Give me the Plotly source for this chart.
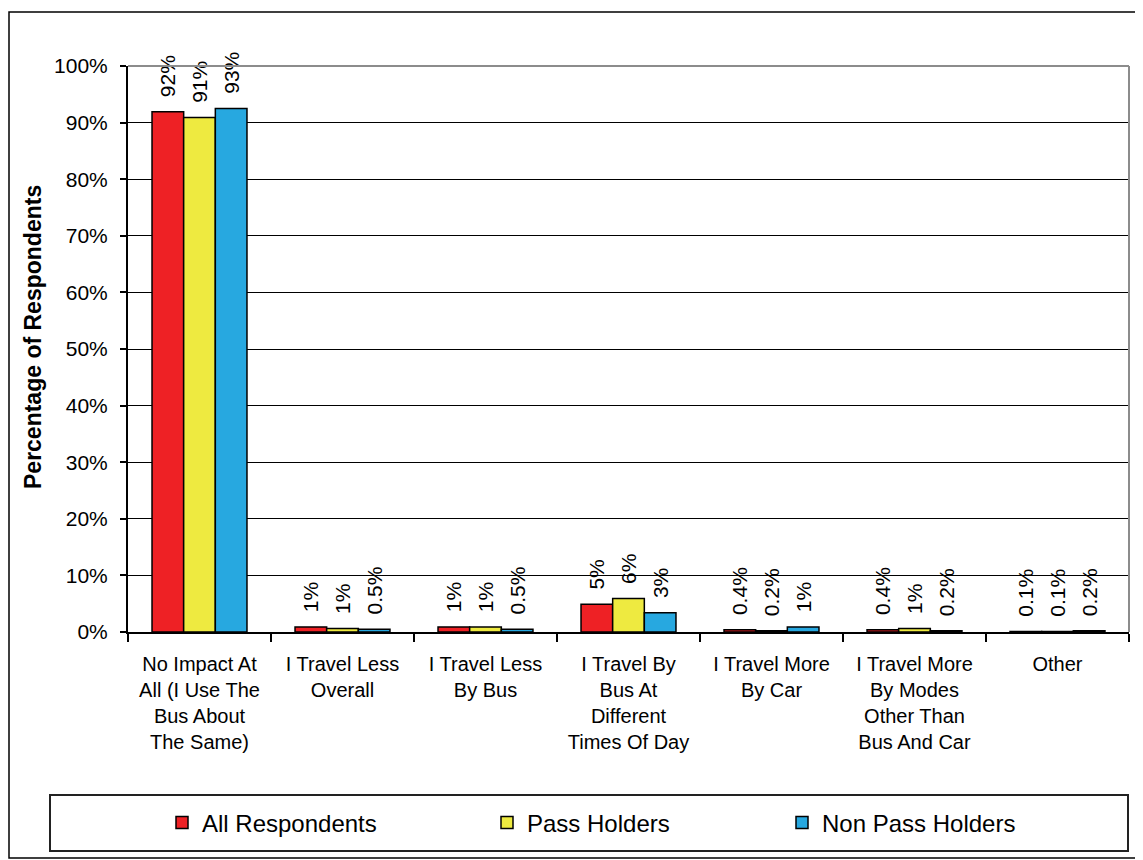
import plotly.graph_objects as go

categories = [
    "No Impact At<br>All (I Use The<br>Bus About<br>The Same)",
    "I Travel Less<br>Overall",
    "I Travel Less<br>By Bus",
    "I Travel By<br>Bus At<br>Different<br>Times Of Day",
    "I Travel More<br>By Car",
    "I Travel More<br>By Modes<br>Other Than<br>Bus And Car",
    "Other",
]
cat_ids = ["c1", "c2", "c3", "c4", "c5", "c6", "c7"]

all_respondents = [91.9, 0.9, 0.9, 4.9, 0.4, 0.4, 0.1]
pass_holders = [90.9, 0.6, 0.9, 5.9, 0.2, 0.6, 0.1]
non_pass_holders = [92.5, 0.5, 0.5, 3.4, 0.9, 0.2, 0.2]

all_labels = ["92%", "1%", "1%", "5%", "0.4%", "0.4%", "0.1%"]
pass_labels = ["91%", "1%", "1%", "6%", "0.2%", "1%", "0.1%"]
non_labels = ["93%", "0.5%", "0.5%", "3%", "1%", "0.2%", "0.2%"]

y_ticks = [0, 10, 20, 30, 40, 50, 60, 70, 80, 90, 100]

FONT = "Liberation Sans, Arial, sans-serif"

series = [
    ("All Respondents", all_respondents, all_labels, "#EE2125", "legend"),
    ("Pass Holders", pass_holders, pass_labels, "#EEEA40", "legend2"),
    ("Non Pass Holders", non_pass_holders, non_labels, "#27A8E0", "legend3"),
]

fig = go.Figure()
for name, vals, labs, color, leg in series:
    fig.add_trace(go.Bar(
        name=name, x=cat_ids, y=vals, text=["&nbsp;&nbsp;" + s for s in labs],
        textposition="outside", textangle=-90, constraintext="none",
        cliponaxis=False,
        textfont=dict(family=FONT, size=21, color="black"),
        marker=dict(color=color, line=dict(color="black", width=1.5)),
        legend=leg,
    ))

# page has an 8px body margin; figure is sized to fit inside the window
OFF = 8
W, H = 1135, 852
L, R, T, B = 120, 14, 58, 228
pw, ph = W - L - R, H - T - B

def px(x):
    return (x - OFF - L) / pw

def py(y):
    return (H - B - (y - OFF)) / ph

shapes = [
    dict(type="rect", xref="paper", yref="paper", x0=px(9), x1=px(1141), y0=py(12), y1=py(858),
         line=dict(color="black", width=1.5)),
    dict(type="rect", xref="paper", yref="paper", x0=px(50), x1=px(1128), y0=py(795), y1=py(851),
         line=dict(color="#222222", width=2)),
    dict(type="line", xref="paper", yref="paper", x0=0, x1=1, y0=1, y1=1,
         line=dict(color="#8C8C8C", width=2)),
    dict(type="line", xref="paper", yref="paper", x0=1, x1=1, y0=0, y1=1,
         line=dict(color="#8C8C8C", width=2)),
]

leg_common = dict(orientation="h", yanchor="middle", y=py(823), xanchor="left",
                  font=dict(family=FONT, size=24, color="black"),
                  bgcolor="rgba(0,0,0,0)", borderwidth=0)

fig.update_layout(
    width=W, height=H,
    margin=dict(l=L, r=R, t=T, b=B),
    paper_bgcolor="white", plot_bgcolor="white",
    barmode="group", bargap=0.336, bargroupgap=0,
    font=dict(family=FONT, size=21, color="black"),
    showlegend=True,
    legend=dict(x=px(162), **leg_common),
    legend2=dict(x=px(487), **leg_common),
    legend3=dict(x=px(782), **leg_common),
    xaxis=dict(
        type="category", tickmode="array", tickvals=cat_ids, ticktext=categories,
        tickson="boundaries", ticks="outside", ticklen=8, tickcolor="black", tickwidth=1.5,
        showline=True, linecolor="black", linewidth=2,
        tickfont=dict(family=FONT, size=20, color="black"),
        showgrid=False, ticklabelstandoff=13,
    ),
    yaxis=dict(
        range=[0, 100], tickmode="array", tickvals=y_ticks,
        ticktext=[f"{v}%" for v in y_ticks],
        ticks="outside", ticklen=6, tickcolor="black", tickwidth=1.5,
        showline=True, linecolor="black", linewidth=2,
        showgrid=True, gridcolor="black", gridwidth=1,
        zeroline=False,
        tickfont=dict(family=FONT, size=21, color="black"),
        ticklabelstandoff=8,
    ),
    shapes=shapes,
    annotations=[dict(
        text="<b>Percentage of Respondents</b>", xref="paper", yref="paper",
        x=px(33), y=py(337), textangle=-90, showarrow=False,
        font=dict(family=FONT, size=23, color="black"),
        xanchor="center", yanchor="middle",
    )],
)

fig.write_html("out.html")
